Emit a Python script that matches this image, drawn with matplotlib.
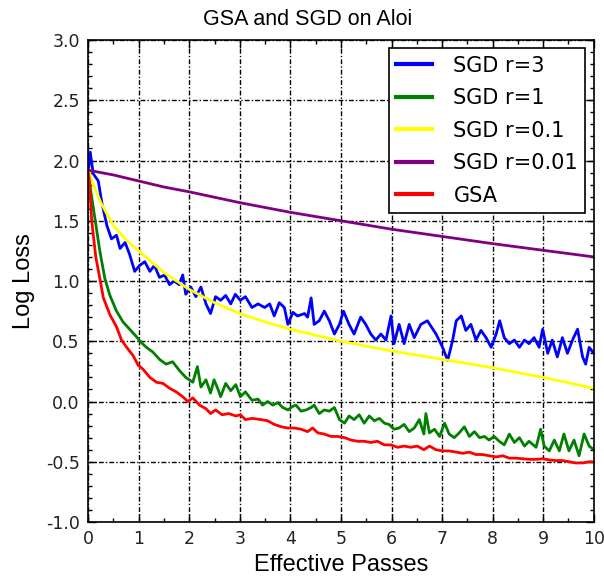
import numpy as np
import matplotlib.pyplot as plt
from matplotlib.ticker import MultipleLocator

# loss curves (log loss vs effective passes)
sgd3_x = [0, 0.04, 0.1, 0.2, 0.27, 0.37, 0.46, 0.56, 0.63, 0.73, 0.82, 0.92, 1.02, 1.12,
          1.22, 1.31, 1.41, 1.51, 1.61, 1.7, 1.8, 1.87, 1.93, 2.03, 2.13, 2.23, 2.33, 2.42,
          2.52, 2.62, 2.72, 2.82, 2.91, 3.01, 3.11, 3.24, 3.36, 3.49, 3.59, 3.68, 3.78,
          3.88, 3.95, 4.05, 4.14, 4.28, 4.34, 4.41, 4.47, 4.57, 4.67, 4.77, 4.87, 4.97,
          5.05, 5.16, 5.26, 5.39, 5.49, 5.59, 5.69, 5.79, 5.89, 5.99, 6.05, 6.15, 6.25,
          6.35, 6.45, 6.58, 6.71, 6.88, 7.01, 7.11, 7.21, 7.28, 7.38, 7.47, 7.57, 7.67,
          7.77, 7.87, 7.97, 8.07, 8.14, 8.23, 8.33, 8.43, 8.53, 8.63, 8.72, 8.82, 8.92,
          8.99, 9.09, 9.18, 9.28, 9.38, 9.48, 9.58, 9.68, 9.78, 9.84, 9.91, 10.0]
sgd3_y = [1.9, 2.07, 1.89, 1.83, 1.65, 1.46, 1.35, 1.38, 1.27, 1.32, 1.22, 1.08, 1.13, 1.16,
          1.08, 1.13, 1.03, 1.05, 0.97, 1.0, 0.97, 1.05, 0.89, 0.95, 0.87, 0.95, 0.81, 0.73,
          0.87, 0.84, 0.88, 0.81, 0.89, 0.84, 0.87, 0.78, 0.81, 0.78, 0.81, 0.71, 0.82,
          0.78, 0.64, 0.74, 0.71, 0.73, 0.70, 0.86, 0.64, 0.67, 0.75, 0.67, 0.56, 0.64,
          0.75, 0.64, 0.56, 0.70, 0.64, 0.56, 0.51, 0.56, 0.51, 0.71, 0.48, 0.64, 0.48,
          0.64, 0.53, 0.64, 0.67, 0.56, 0.45, 0.34, 0.51, 0.67, 0.71, 0.59, 0.64, 0.51,
          0.59, 0.53, 0.45, 0.56, 0.67, 0.53, 0.48, 0.51, 0.45, 0.51, 0.48, 0.53, 0.45,
          0.60, 0.40, 0.51, 0.37, 0.53, 0.40, 0.51, 0.60, 0.37, 0.31, 0.45, 0.40]

sgd1_x = [0, 0.05, 0.14, 0.23, 0.33, 0.43, 0.56, 0.69, 0.82, 0.95, 1.05, 1.15, 1.28, 1.41,
          1.54, 1.67, 1.8, 1.93, 2.07, 2.16, 2.23, 2.33, 2.42, 2.49, 2.56, 2.62, 2.72,
          2.82, 2.92, 3.01, 3.11, 3.24, 3.36, 3.45, 3.55, 3.65, 3.75, 3.85, 3.95, 4.05,
          4.11, 4.21, 4.31, 4.41, 4.47, 4.57, 4.67, 4.77, 4.87, 4.97, 5.07, 5.16, 5.26,
          5.36, 5.46, 5.56, 5.66, 5.76, 5.86, 5.95, 6.05, 6.15, 6.25, 6.35, 6.45, 6.55,
          6.64, 6.68, 6.75, 6.85, 6.95, 7.05, 7.14, 7.24, 7.34, 7.44, 7.54, 7.64, 7.74,
          7.84, 7.93, 8.03, 8.13, 8.23, 8.33, 8.43, 8.53, 8.63, 8.72, 8.86, 8.95, 9.02,
          9.12, 9.22, 9.32, 9.41, 9.51, 9.61, 9.71, 9.81, 9.91, 10.0]
sgd1_y = [1.9, 1.75, 1.5, 1.25, 1.02, 0.88, 0.75, 0.66, 0.60, 0.54, 0.49, 0.45, 0.41, 0.35,
          0.31, 0.33, 0.26, 0.20, 0.16, 0.29, 0.12, 0.18, 0.07, 0.18, 0.11, 0.04, 0.15,
          0.09, 0.14, 0.04, 0.08, 0.01, 0.02, -0.03, 0.0, -0.03, -0.01, -0.05, -0.07, -0.04,
          -0.03, -0.08, -0.07, -0.05, -0.03, -0.10, -0.07, -0.08, -0.05, -0.15, -0.18, -0.12,
          -0.15, -0.11, -0.18, -0.12, -0.16, -0.14, -0.18, -0.19, -0.23, -0.22, -0.19,
          -0.25, -0.22, -0.15, -0.27, -0.10, -0.26, -0.23, -0.29, -0.18, -0.27, -0.30,
          -0.26, -0.21, -0.29, -0.25, -0.30, -0.29, -0.32, -0.29, -0.33, -0.36, -0.27,
          -0.34, -0.30, -0.37, -0.33, -0.38, -0.23, -0.37, -0.41, -0.32, -0.41, -0.27,
          -0.41, -0.32, -0.45, -0.27, -0.37, -0.40]

sgd01_x = [0, 0.1, 0.25, 0.5, 0.75, 1, 1.5, 2, 2.5, 3, 3.5, 4, 5, 6, 7, 8, 9, 10]
sgd01_y = [1.92, 1.80, 1.65, 1.46, 1.34, 1.25, 1.07, 0.93, 0.82, 0.73, 0.66, 0.60, 0.50,
           0.42, 0.35, 0.28, 0.20, 0.11]

sgd001_x = [0, 0.5, 1, 1.5, 2, 3, 4, 5, 6, 7, 8, 9, 10]
sgd001_y = [1.92, 1.88, 1.83, 1.78, 1.74, 1.65, 1.57, 1.50, 1.43, 1.37, 1.31, 1.255, 1.20]

gsa_x = [0, 0.02, 0.07, 0.15, 0.24, 0.3, 0.43, 0.56, 0.66, 0.76, 0.89, 0.99, 1.08, 1.22,
         1.35, 1.48, 1.61, 1.74, 1.87, 1.97, 2.07, 2.2, 2.33, 2.42, 2.52, 2.65, 2.78, 2.92,
         3.01, 3.11, 3.24, 3.42, 3.55, 3.68, 3.82, 3.95, 4.08, 4.21, 4.34, 4.44, 4.54,
         4.67, 4.8, 4.93, 5.07, 5.2, 5.33, 5.46, 5.59, 5.72, 5.86, 5.99, 6.12, 6.25, 6.38,
         6.51, 6.64, 6.75, 6.88, 7.01, 7.14, 7.28, 7.41, 7.54, 7.67, 7.8, 7.93, 8.07, 8.2,
         8.33, 8.46, 8.59, 8.72, 8.86, 8.99, 9.12, 9.25, 9.38, 9.51, 9.64, 9.78, 9.91, 10.0]
gsa_y = [1.9, 1.85, 1.5, 1.2, 1.0, 0.86, 0.72, 0.62, 0.51, 0.45, 0.38, 0.30, 0.27, 0.20,
         0.16, 0.15, 0.11, 0.08, 0.04, 0.0, 0.03, -0.03, -0.06, -0.10, -0.07, -0.11, -0.10,
         -0.12, -0.11, -0.15, -0.14, -0.15, -0.16, -0.19, -0.21, -0.22, -0.22, -0.23, -0.25,
         -0.22, -0.26, -0.27, -0.29, -0.29, -0.30, -0.32, -0.33, -0.33, -0.34, -0.33,
         -0.36, -0.36, -0.38, -0.37, -0.38, -0.37, -0.40, -0.37, -0.40, -0.41, -0.41,
         -0.42, -0.43, -0.42, -0.44, -0.44, -0.45, -0.46, -0.45, -0.47, -0.47, -0.475,
         -0.48, -0.48, -0.475, -0.485, -0.49, -0.49, -0.50, -0.51, -0.51, -0.50, -0.50]

series = [
    (sgd3_x, sgd3_y, "blue", "SGD r=3"),
    (sgd1_x, sgd1_y, "green", "SGD r=1"),
    (sgd01_x, sgd01_y, "yellow", "SGD r=0.1"),
    (sgd001_x, sgd001_y, "purple", "SGD r=0.01"),
    (gsa_x, gsa_y, "red", "GSA"),
]

fig = plt.figure(figsize=(6.04, 5.8), dpi=100)
ax = fig.add_axes([0.146, 0.1, 0.837, 0.831])

for xs, ys, c, lab in series:
    ax.plot(xs, ys, color=c, lw=2, label=lab)

ax.set_xlim(0, 10)
ax.set_ylim(-1, 3)
ax.xaxis.set_major_locator(MultipleLocator(1))
ax.xaxis.set_minor_locator(MultipleLocator(0.5))
ax.yaxis.set_major_locator(MultipleLocator(0.5))
ax.yaxis.set_minor_locator(MultipleLocator(0.1))
ax.yaxis.set_major_formatter(plt.FormatStrFormatter("%.1f"))
ax.tick_params(which="both", direction="in", top=True, right=True,
               labelsize=12.5, labelcolor="#222222", pad=6)
ax.tick_params(which="major", length=6, width=1)
ax.tick_params(which="minor", length=3, width=1)
ax.grid(True, which="major", color="black", linestyle=(0, (3.5, 1.5, 1, 1.5)), lw=1)
for s in ax.spines.values():
    s.set_linewidth(1.2)

ax.set_xlabel("Effective Passes", fontsize=17, family="Liberation Sans", labelpad=4)
ax.set_ylabel("Log Loss", fontsize=17, family="Liberation Sans", labelpad=8)
fig.suptitle("GSA and SGD on Aloi", x=0.51, y=0.985, fontsize=15.5, family="Liberation Sans")

leg = ax.legend(loc="upper right", fontsize=15, fancybox=False, framealpha=1,
                handlelength=1.7, handletextpad=1.05, labelspacing=0.6,
                borderpad=0.35, borderaxespad=0.4)
leg.get_frame().set_edgecolor("black")
leg.get_frame().set_linewidth(1.2)
for h in leg.get_lines():
    h.set_linewidth(3)

plt.savefig("out.png", dpi=100)
